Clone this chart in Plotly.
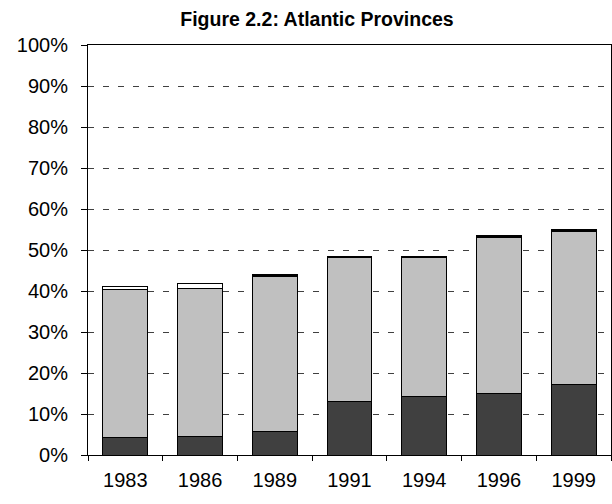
import plotly.graph_objects as go

years = ["1983", "1986", "1989", "1991", "1994", "1996", "1999"]
dark = [4.2, 4.5, 5.8, 13.1, 14.3, 15.0, 17.2]
light = [36.1, 36.0, 37.8, 35.1, 33.9, 38.1, 37.3]
white = [0.9, 1.3, 0.0, 0.0, 0.0, 0.0, 0.0]
black = [0.0, 0.0, 0.4, 0.1, 0.3, 0.4, 0.4]
yticks = [0, 10, 20, 30, 40, 50, 60, 70, 80, 90, 100]

series = [
    ("Series 1", dark, "#404040"),
    ("Series 2", light, "#c0c0c0"),
    ("Series 3", white, "#ffffff"),
    ("Series 4", black, "#000000"),
]

fig = go.Figure()
for name, vals, col in series:
    fig.add_trace(go.Bar(
        x=years, y=vals, name=name,
        marker=dict(color=col, line=dict(color="#000000", width=1)),
        showlegend=False,
        hoverinfo="skip",
    ))

font = "Liberation Sans, Arial, sans-serif"
fig.update_layout(
    barmode="stack",
    bargap=0.4,
    width=612, height=504,
    margin=dict(l=88, r=1, t=45, b=49),
    paper_bgcolor="white",
    plot_bgcolor="white",
    title=dict(
        text="<b>Figure 2.2: Atlantic Provinces</b>",
        x=317 / 612, xref="container", xanchor="center",
        y=1 - 19 / 504, yref="container", yanchor="middle",
        font=dict(family=font, size=19.5, color="#000000"),
    ),
    font=dict(family=font, size=20, color="#000000"),
)
fig.update_xaxes(
    type="category",
    showline=True, linecolor="#000000", linewidth=1, mirror=True,
    ticks="outside", tickson="boundaries", ticklen=5, tickcolor="#000000",
    showgrid=False,
    ticklabelstandoff=7,
)
fig.update_yaxes(
    range=[0, 100],
    tickvals=yticks,
    ticktext=[f"{v}%" for v in yticks],
    showline=True, linecolor="#000000", linewidth=1, mirror=True,
    ticks="outside", ticklen=6, tickcolor="#000000",
    showgrid=True, gridcolor="#404040", gridwidth=1, griddash="6px,9px",
    zeroline=False,
    ticklabelstandoff=9,
)

fig.write_html(
    "out.html",
    config={"displayModeBar": False, "staticPlot": True},
    post_script="document.body.style.margin='0';document.body.style.overflow='hidden';",
)
